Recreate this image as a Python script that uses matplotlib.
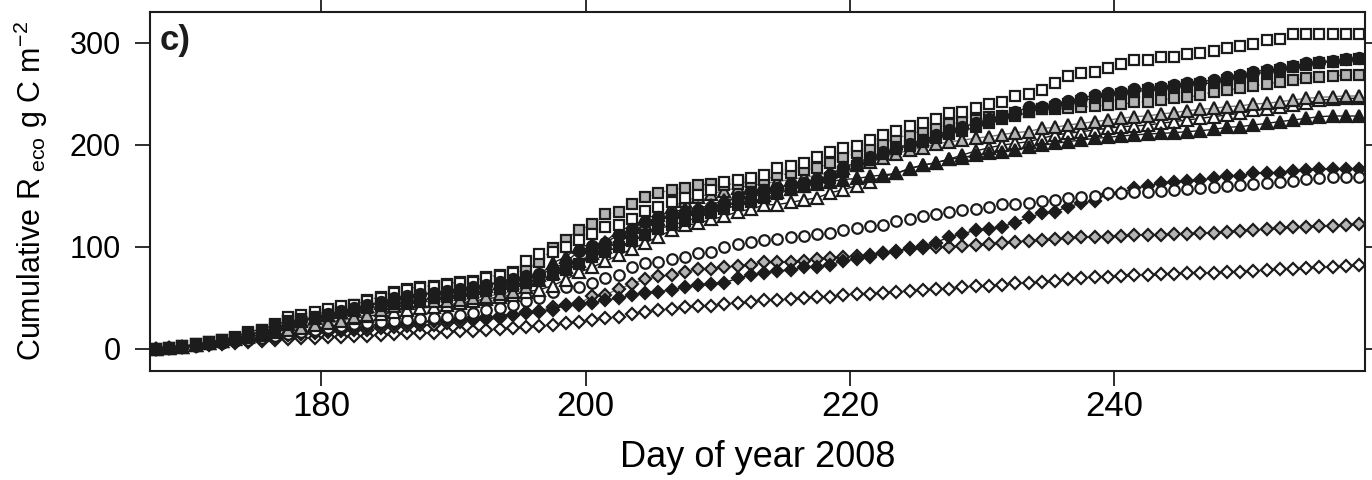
import numpy as np
import matplotlib
matplotlib.use("Agg")
import matplotlib.pyplot as plt

plt.rcParams["font.family"] = ["Liberation Sans", "DejaVu Sans"]
plt.rcParams["mathtext.fontset"] = "custom"
plt.rcParams["mathtext.rm"] = "Liberation Sans"
plt.rcParams["mathtext.it"] = "Liberation Sans:italic"
plt.rcParams["mathtext.bf"] = "Liberation Sans:bold"

# Day of year (daily values, plotted at mid-day)
day = np.arange(167.5, 259.0, 1.0)

open_square = [
    0, 1, 3, 5, 7, 9, 11, 16, 19, 23.5,
    31, 33, 36.5, 39, 42, 43, 47, 50, 55, 58,
    60, 61, 63, 64.5, 66, 69.5, 71.5, 74, 86, 93,
    95, 100, 107, 113, 119, 121, 127, 135, 139, 144,
    148, 151, 156, 164, 165.5, 167.5, 170, 177, 179, 182,
    188, 193, 196.5, 199, 205, 210, 214, 218, 221.5, 225,
    231, 232.5, 236, 240, 242, 248, 250, 254, 261, 267,
    270, 271, 275, 279, 283, 283, 286, 286.5, 289, 290,
    292, 295, 297, 298.5, 302.5, 304, 309, 309, 309, 309, 309, 309]

gray_square = [
    0, 1, 2.5, 4.5, 6.5, 8.5, 10.5, 14, 17, 21,
    27, 30, 33.5, 37, 40, 43, 48, 51, 56, 59,
    61, 62, 64, 65.5, 67, 70.5, 72.5, 75, 77.5, 85.5,
    98.5, 106.8, 117, 122, 132, 134.5, 141.7, 148.6, 153, 155.7,
    158, 160.6, 161.6, 161, 162, 164, 166, 170, 172, 175,
    177, 182, 188, 191.5, 195.5, 201, 207.5, 209, 214.5, 216.5,
    220, 222, 224, 227, 228.2, 231, 232.5, 234.7, 235, 235.7,
    236.7, 238, 239, 239.6, 241.6, 242.3, 243.9, 245.5, 246.5, 248.8,
    252, 253.7, 255.3, 257.6, 259.5, 261.8, 263.5, 265.1, 266.7, 267.4, 268.4, 268.4]

black_circle = [
    0, 1, 2, 4, 6, 8, 10.5, 14, 17, 21,
    25, 28, 31, 34, 37, 40, 43, 46, 50, 52,
    54, 55, 56.5, 59, 61, 63, 66, 69, 71, 73,
    78, 85, 96, 101, 104, 112, 118, 124, 129, 131,
    134, 136.5, 139, 143, 149, 154, 155.7, 157.4, 162, 163,
    165.5, 170, 178.6, 182, 188, 193, 196.5, 201, 204.6, 209.6,
    214.5, 217.7, 221, 225, 228, 232, 237, 237.4, 240, 243.2,
    245.5, 248.8, 250.4, 252, 254.3, 255.3, 256.3, 258.6, 260.9, 261.8,
    263.5, 266.1, 268.4, 271.6, 273.3, 274.9, 277.2, 279.8, 281.4, 282.4, 283.7, 284.7]

black_square = [
    0, 1, 2.5, 4.5, 7, 9, 12, 17, 19, 24,
    27, 29, 31, 33, 35, 37.5, 40, 42, 44, 46,
    48, 49.5, 51, 53, 55, 57, 59, 62, 65, 68,
    72, 77, 83, 90, 95, 100, 106, 112, 118, 121,
    125, 129, 133, 137, 141, 144, 148, 152, 156, 159,
    163, 167, 173, 179, 185, 191, 196, 199, 203, 207,
    211, 214, 217, 221, 225, 228, 232, 235, 237.5, 240,
    243, 246, 248, 250, 252, 253.5, 254.5, 256.5, 258.5, 259.5,
    261, 263.5, 266, 269, 271.5, 273.5, 276, 278.5, 280.5, 281.5, 283, 284]

gray_triangle = [
    0, 1, 2, 4, 6, 8, 10, 13, 16, 17.5,
    19, 21, 23.5, 25, 27, 31, 33, 38, 42, 45,
    46.5, 46.5, 47, 48, 49.6, 51.3, 54, 56, 61, 68,
    74, 80, 86, 94, 100, 108, 115, 122, 127, 139,
    145, 149, 152, 155, 158, 160, 162, 164, 166, 168,
    170, 173, 177, 180, 183, 187, 191, 195, 197, 201,
    203, 204.5, 206.5, 208, 210, 212, 213, 216.1, 217.1, 219.4,
    221, 222.7, 224.3, 225.9, 227.6, 228.2, 230.2, 231.5, 233.4, 234.7,
    235.7, 237.4, 238, 240, 240.6, 242.2, 243.9, 245.5, 246.5, 247.1, 247.8, 247.8]

open_triangle = [
    0, 1, 2, 4, 6, 8, 10, 12, 14, 17,
    20, 22, 24, 26, 28, 30, 32, 34, 36, 38,
    40, 41.5, 43, 45, 47, 49, 51, 53, 56, 58,
    62, 68, 75, 80, 86, 92, 98, 104, 110, 116.5,
    121, 123, 127, 130, 134.5, 137, 141, 141.5, 143.5, 146,
    148, 153, 156, 160, 164, 169, 172, 176.5, 180, 182.5,
    186, 190, 194, 197, 199.8, 201.4, 203.1, 206.3, 209.6, 211.2,
    212.9, 214.5, 216.1, 217.8, 218.4, 219.4, 221, 222.7, 224.3, 225.9,
    227.6, 229.2, 230.8, 234.1, 234.7, 237.4, 239, 240.6, 243.9, 244.5, 245.5, 245.5]

black_triangle = [
    0, 1, 2, 4, 6, 8, 10.5, 14, 17, 20,
    24, 27, 30, 33, 36, 39, 42, 45, 48, 51,
    53, 54.5, 56, 58, 60, 62, 65, 68, 70, 72,
    84, 90.4, 100.2, 102, 105, 116.5, 119.8, 128, 131.2, 134,
    136.8, 137.8, 141, 146, 147.6, 150, 151, 154, 157, 160,
    162, 164, 166, 167, 169, 170.5, 172, 177, 180, 182.5,
    185.8, 187.5, 190, 191.6, 193.3, 194.9, 198.2, 199.8, 201.4, 203.1,
    204.7, 206.3, 207.3, 208.6, 209.6, 210.6, 211.2, 211.9, 212.9, 213.8,
    215.1, 217.1, 217.8, 219.4, 221, 222.7, 224.3, 225.9, 227.6, 228.2, 228.2, 228.2]

open_circle = [
    0, 0.5, 1.5, 3, 4.5, 6, 7.5, 9, 11, 13,
    15, 17, 19, 21, 22.5, 24, 25.5, 26.5, 27.5, 28.5,
    29.5, 30, 31.7, 33.3, 35, 38.5, 40.2, 43.5, 46.7, 50,
    56, 60.4, 61, 65, 69.2, 72.5, 80.6, 83.9, 85.5, 87.8,
    90.4, 93.7, 95.3, 99.6, 102.5, 105.1, 106.8, 107.4, 109.4, 110.7,
    112.6, 113.9, 116.5, 118.2, 120.5, 121.4, 125.7, 127, 130.3, 132.2,
    134.5, 136.1, 137.1, 138.8, 141.7, 142, 143.3, 145.3, 145.9, 147.6,
    148.6, 150.2, 153.1, 153.1, 154.1, 154.1, 155.1, 155.7, 156.7, 157.4,
    158.3, 159.7, 160.6, 161.6, 162.9, 163.9, 164.9, 166.2, 167.8, 168.8, 168.8, 168.8]

black_diamond = [
    0, 0.5, 1.5, 3, 4.5, 6, 7.5, 9, 10.5, 12,
    13.5, 15, 16.5, 18, 19.5, 21, 22, 23, 24, 25,
    26, 27, 28, 29, 30, 31, 32, 33.5, 35, 36.5,
    38.2, 43.1, 43.5, 44.7, 48, 49.6, 52.9, 55.2, 56.1, 57.8,
    60.4, 62.7, 63.7, 65, 69.2, 72.5, 74.1, 76.7, 77, 80,
    80.5, 82.3, 86.5, 87.8, 90.4, 93.7, 96.3, 98.6, 100.9, 104.1,
    110, 112.6, 116.5, 117.2, 119.8, 123.7, 129, 132.9, 134.5, 139.4,
    142.7, 145.3, 151.8, 153.1, 157.4, 159.7, 162.3, 163.9, 164.9, 165.5,
    167.1, 169.4, 169.4, 172.1, 172.1, 172.7, 174.6, 175.3, 176, 176, 176, 176]

gray_diamond = [
    0, 0.5, 1.5, 3, 4.5, 6, 7.5, 9, 10.5, 12,
    13.5, 15, 16, 17, 18, 18.5, 19, 20.5, 22, 22.5,
    23, 23.5, 25, 26.5, 28.4, 29, 30, 33, 36.6, 37,
    41.5, 43, 44.7, 51.6, 53.2, 58.7, 63.8, 68.4, 71, 72.5,
    75.7, 78.1, 78.1, 80, 81.3, 82.3, 84.7, 84.7, 85.5, 86.5,
    87.8, 88.7, 89.8, 91.1, 92, 94.3, 95.3, 97.6, 98.6, 99.6,
    100.2, 100.9, 101.8, 102.8, 104.1, 105.1, 106, 106.7, 107.4, 108.4,
    109.4, 110, 110, 110.7, 111.4, 111.4, 111.7, 112.6, 112.6, 113.3,
    113.9, 114.9, 115.9, 116.5, 117.2, 118.2, 119.2, 119.8, 120.5, 120.5, 121.4, 122.4]

open_diamond = [
    0, 0.5, 1.5, 2.5, 3.5, 4.5, 5.5, 6.5, 7.5, 8.5,
    9.5, 10.5, 11, 11.5, 12, 12.5, 13, 13.5, 14.5, 15.5,
    15.8, 16, 16.5, 17.3, 18, 18.9, 19.5, 20.6, 21.5, 22.2,
    23.5, 25.8, 26.8, 28.3, 30.2, 31.3, 34, 36.2, 37.9, 39.5,
    41.1, 41.8, 41.8, 44.4, 45.1, 46, 47.6, 48.3, 49.3, 50.3,
    50.9, 50.9, 52.6, 53.5, 54.2, 54.8, 55.8, 56.8, 58.1, 59.1,
    59.1, 61, 61.7, 61.7, 62.7, 64.3, 65, 66, 67, 68.3,
    69.2, 70.2, 70.9, 71.5, 72.5, 72.5, 73.1, 73.5, 74.1, 74.1,
    74.8, 75.4, 75.7, 76.7, 77.4, 78, 78.7, 79.4, 80, 80.7, 81.3, 82.3]

DARK = "#1c1c1c"
GRAY = "#b4b4b4"
WHITE = "white"

# (values, marker, size, face colour, line style, line colour)
series = [
    (open_diamond, "D", 6.2, WHITE, "none", DARK),
    (gray_diamond, "D", 6.2, GRAY, "-", "#777777"),
    (black_diamond, "D", 6.2, DARK, "-", DARK),
    (open_circle, "o", 7.6, WHITE, "none", DARK),
    (open_triangle, "^", 8.8, WHITE, "-", DARK),
    (gray_triangle, "^", 8.8, GRAY, "-", "#777777"),
    (black_triangle, "^", 8.8, DARK, "-", DARK),
    (gray_square, "s", 7.2, GRAY, ":", "#777777"),
    (open_square, "s", 7.2, WHITE, "none", DARK),
    (black_square, "s", 7.2, DARK, "-", DARK),
    (black_circle, "o", 8.0, DARK, "-", DARK),
]

fig = plt.figure(figsize=(13.72, 4.80), dpi=100)
ax = fig.add_axes([0.10933, 0.22771, 0.88557, 0.74792])

for vals, mk, ms, fc, ls, lc in series:
    ax.plot(day, vals, linestyle=ls, color=lc, linewidth=1.0,
            marker=mk, markersize=ms, markerfacecolor=fc,
            markeredgecolor=DARK, markeredgewidth=1.6)

ax.set_xlim(167.05, 258.95)
ax.set_ylim(-21.3, 330.4)
ax.set_xticks([180, 200, 220, 240])
ax.set_yticks([0, 100, 200, 300])

for s in ax.spines.values():
    s.set_linewidth(1.5)
    s.set_color(DARK)

ax.tick_params(axis="both", which="major", direction="out", length=11,
               width=1.3, color=DARK, top=True, right=True,
               labeltop=False, labelright=False)
ax.tick_params(axis="x", labelsize=25, pad=3)
ax.tick_params(axis="y", labelsize=22, pad=10)

ax.set_xlabel("Day of year 2008", fontsize=26, labelpad=12)
ax.set_ylabel(r"Cumulative R$_{\mathrm{\ eco}}$ g C m$^{-2}$", fontsize=22, labelpad=14)

ax.text(0.008, 0.965, "c)", transform=ax.transAxes, fontsize=25,
        fontweight="bold", ha="left", va="top", color=DARK)

fig.savefig("out.png", dpi=100)
